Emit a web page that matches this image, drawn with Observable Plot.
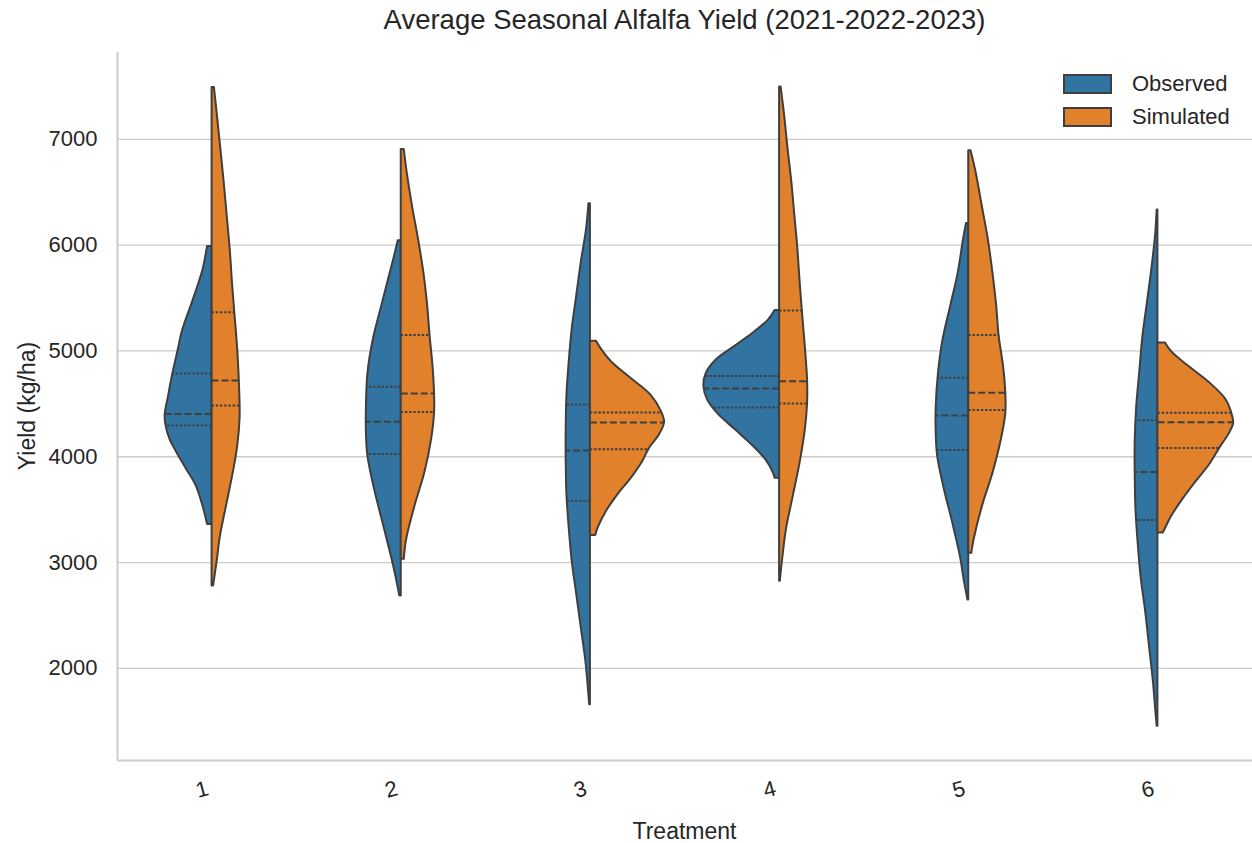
<!DOCTYPE html>
<html>
<head>
<meta charset="utf-8">
<script src="https://cdn.jsdelivr.net/npm/d3@7"></script>
<script src="https://cdn.jsdelivr.net/npm/@observablehq/plot@0.6"></script>
<style>
  body { margin: 0; background: #ffffff; font-family: "Liberation Sans", Arial, sans-serif; color: #262626; }
  #wrap { position: relative; width: 1252px; height: 843px; overflow: hidden; }
  #chart { position: absolute; left: 0; top: 0; }
  #title { position: absolute; left: 117px; width: 1135px; top: 4px; text-align: center; font-size: 27.5px; line-height: 32px; white-space: nowrap; }
  #xlabel { position: absolute; left: 117px; width: 1135px; top: 817px; text-align: center; font-size: 23px; line-height: 28px; }
  #ylabel { position: absolute; left: 27px; top: 406px; transform: translate(-50%, -50%) rotate(-90deg); font-size: 23px; line-height: 28px; white-space: nowrap; }
  #legend { position: absolute; left: 1063px; top: 67px; font-size: 22px; }
  .row { display: flex; align-items: center; height: 33px; }
  .sw { width: 45px; height: 16px; border: 2px solid #3f3f3f; margin-right: 20px; }
</style>
</head>
<body>
<div id="wrap">
  <div id="chart"></div>
  <div id="title">Average Seasonal Alfalfa Yield (2021-2022-2023)</div>
  <div id="xlabel">Treatment</div>
  <div id="ylabel">Yield (kg/ha)</div>
  <div id="legend"></div>
</div>
<script>
// ---------- data ----------
const treatments = [1, 2, 3, 4, 5, 6];
const groups = ["Observed", "Simulated"];
const groupColors = ["#3274a1", "#e1812c"];
const yTicks = [2000, 3000, 4000, 5000, 6000, 7000];

// density profiles (yield in kg/ha, relative density)
const obsYield = [
  [5987,5764,5478,5191,5000,4777,4554,4395,4299,4172,4045,3885,3726,3535,3360],
  [6041,5890,5669,5418,5103,4788,4473,4221,4001,3686,3371,3057,2868,2685],
  [6390,6154,5840,5525,5211,4896,4582,4267,3953,3638,3324,3009,2695,2380,2066,1751,1657],
  [5383,5289,5163,5038,4912,4786,4661,4535,4410,4252,4095,3970,3844,3797],
  [6205,6047,5732,5418,5103,4788,4473,4221,4001,3686,3371,3057,2836,2647],
  [6331,6097,5773,5448,5123,4799,4474,4149,3825,3500,3175,2851,2526,2201,1877,1617,1454]
];
const obsDensity = [
  [0.06,0.12,0.25,0.39,0.45,0.52,0.58,0.62,0.61,0.56,0.47,0.34,0.21,0.12,0.06],
  [0.04,0.09,0.17,0.26,0.37,0.44,0.46,0.46,0.44,0.35,0.24,0.13,0.07,0.02],
  [0.02,0.05,0.12,0.18,0.24,0.28,0.31,0.32,0.32,0.31,0.28,0.24,0.18,0.12,0.06,0.02,0.01],
  [0.06,0.15,0.36,0.60,0.84,0.97,1.00,0.95,0.82,0.58,0.34,0.18,0.08,0.06],
  [0.03,0.07,0.14,0.24,0.34,0.40,0.43,0.43,0.41,0.32,0.21,0.11,0.06,0.01],
  [0.01,0.03,0.08,0.14,0.20,0.24,0.28,0.30,0.30,0.29,0.26,0.22,0.16,0.11,0.06,0.03,0.01]
];
const simYield = [
  [7490,7229,6911,6592,6274,5955,5637,5366,5000,4713,4490,4363,4108,3885,3567,3248,3026,2780],
  [6903,6677,6362,6047,5732,5418,5150,4851,4599,4410,4158,3844,3529,3214,3031],
  [5091,5022,4896,4739,4582,4424,4324,4204,4079,3953,3796,3638,3481,3324,3255],
  [7493,7236,6921,6607,6293,5979,5666,5383,5038,4724,4504,4253,3938,3624,3310,3028,2824],
  [6891,6677,6362,6047,5732,5418,5150,4851,4599,4410,4158,3844,3529,3214,3088],
  [5075,4993,4864,4701,4539,4376,4312,4214,4084,3922,3760,3597,3435,3321,3279]
];
const simDensity = [
  [0.03,0.07,0.115,0.16,0.20,0.24,0.27,0.30,0.34,0.36,0.37,0.37,0.34,0.29,0.20,0.11,0.07,0.02],
  [0.04,0.08,0.15,0.23,0.30,0.35,0.38,0.42,0.44,0.44,0.40,0.31,0.18,0.07,0.04],
  [0.08,0.14,0.28,0.54,0.80,0.94,0.98,0.91,0.78,0.69,0.54,0.36,0.21,0.10,0.07],
  [0.02,0.065,0.11,0.16,0.20,0.24,0.27,0.30,0.34,0.37,0.37,0.34,0.27,0.18,0.09,0.04,0.01],
  [0.03,0.10,0.18,0.26,0.32,0.37,0.40,0.46,0.49,0.49,0.43,0.32,0.18,0.07,0.04],
  [0.10,0.18,0.39,0.68,0.90,0.99,1.00,0.94,0.82,0.68,0.50,0.33,0.18,0.10,0.07]
];

// quartiles
const obsQ3     = [4787, 4662, 4494, 4764, 4747, 4344];
const obsMedian = [4405, 4332, 4060, 4645, 4391, 3857];
const obsQ1     = [4296, 4026, 3585, 4466, 4064, 3402];
const simQ3     = [5366, 5150, 4418, 5383, 5150, 4415];
const simMedian = [4720, 4599, 4324, 4714, 4605, 4325];
const simQ1     = [4484, 4423, 4072, 4504, 4442, 4084];

// ---------- build tables ----------
const HALF = 0.4; // half violin width in category units
const sets = [
  {group: groups[0], side: -1, Y: obsYield, D: obsDensity, q1: obsQ1, med: obsMedian, q3: obsQ3},
  {group: groups[1], side: 1, Y: simYield, D: simDensity, q1: simQ1, med: simMedian, q3: simQ3}
];
function widthAt(Y, D, v) {
  for (let k = 0; k < Y.length - 1; k++) {
    if (Y[k] >= v && v >= Y[k + 1]) {
      const f = (Y[k] - v) / (Y[k] - Y[k + 1]);
      return D[k] + f * (D[k + 1] - D[k]);
    }
  }
  return 0;
}
const areaRows = [], quartRows = [], medRows = [];
for (const s of sets) {
  treatments.forEach((t, ti) => {
    const Y = s.Y[ti], D = s.D[ti];
    Y.forEach((v, k) => areaRows.push({t, group: s.group, key: s.group + t, yield: v, x2: t + s.side * HALF * D[k]}));
    const mk = v => ({t, group: s.group, value: v, x2: t + s.side * HALF * widthAt(Y, D, v)});
    quartRows.push(mk(s.q1[ti]), mk(s.q3[ti]));
    medRows.push(mk(s.med[ti]));
  });
}

const yDomain = [1130, 7820];
const xDomain = [0.5, 6.5];

const chart = Plot.plot({
  width: 1252,
  height: 843,
  marginTop: 52,
  marginBottom: 83,
  marginLeft: 117,
  marginRight: 0,
  style: {fontFamily: "'Liberation Sans', Arial, sans-serif", fontSize: "22px", color: "#262626", background: "#ffffff"},
  x: {domain: xDomain},
  y: {domain: yDomain},
  color: {domain: groups, range: groupColors},
  marks: [
    Plot.gridY(yTicks, {stroke: "#cccccc", strokeOpacity: 1, strokeWidth: 1.3}),
    Plot.ruleX([xDomain[0]], {stroke: "#cccccc", strokeWidth: 2}),
    Plot.ruleY([yDomain[0]], {stroke: "#cccccc", strokeWidth: 2}),
    Plot.areaX(areaRows, {y: "yield", x1: "t", x2: "x2", z: "key", fill: "group", stroke: "#3f3f3f", strokeWidth: 2, strokeLinejoin: "round", curve: "catmull-rom"}),
    Plot.ruleY(quartRows, {y: "value", x1: "t", x2: "x2", stroke: "#3f3f3f", strokeWidth: 2, strokeDasharray: "2.4,1.8"}),
    Plot.ruleY(medRows, {y: "value", x1: "t", x2: "x2", stroke: "#3f3f3f", strokeWidth: 2, strokeDasharray: "7,3"}),
    Plot.axisY(yTicks, {tickSize: 0, tickPadding: 20, tickFormat: d3.format("d"), fontSize: 22, label: null}),
    Plot.axisX(treatments, {tickSize: 0, tickPadding: 29, tickFormat: d => String(d), tickRotate: -15, textAnchor: "middle", lineAnchor: "middle", dx: -10, fontSize: 22, label: null})
  ]
});
document.getElementById("chart").appendChild(chart);

// legend
const legend = document.getElementById("legend");
groups.forEach((g, i) => {
  const row = document.createElement("div");
  row.className = "row";
  const sw = document.createElement("div");
  sw.className = "sw";
  sw.style.background = groupColors[i];
  const lab = document.createElement("span");
  lab.textContent = g;
  row.appendChild(sw);
  row.appendChild(lab);
  legend.appendChild(row);
});
</script>
</body>
</html>
